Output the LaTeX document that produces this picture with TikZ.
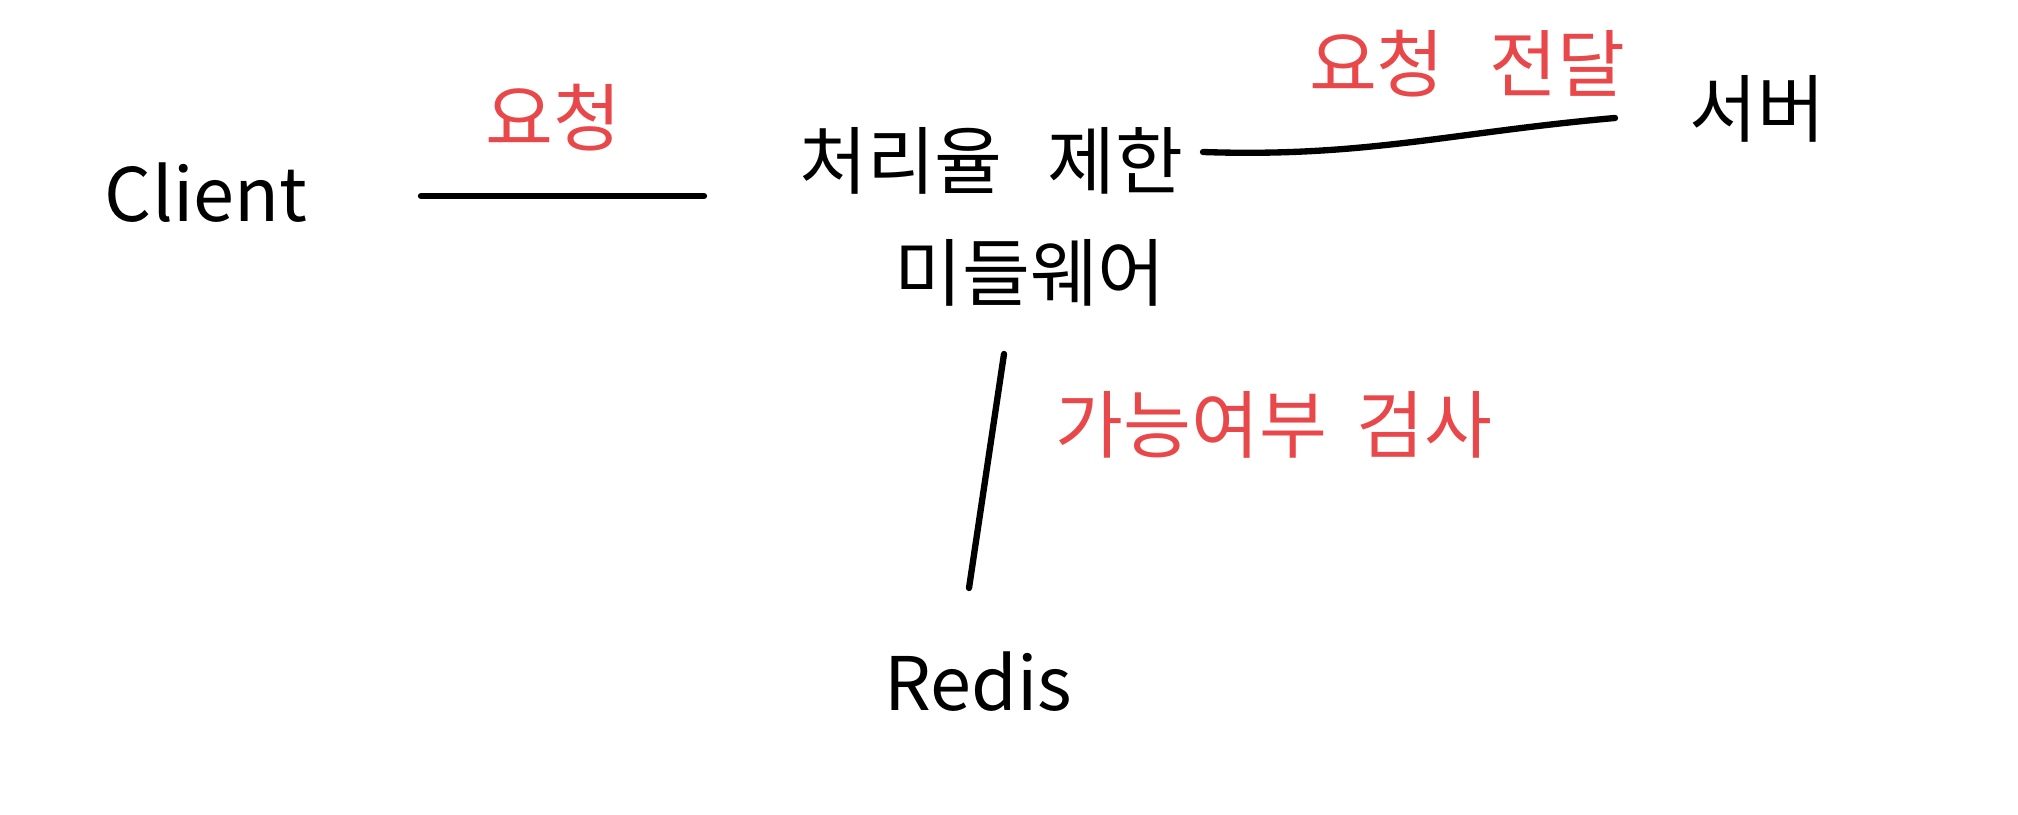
\documentclass[tikz,border=0pt]{standalone}
\usepackage{fontspec}
\setmainfont{Noto Sans CJK KR}
\usepackage{xcolor}
\usepackage{tikz}
\usetikzlibrary{positioning}
\definecolor{penred}{HTML}{E8484A}
\tikzset{ % global config
    every node/.style={font=\fontsize{21}{24}\selectfont}, % handwritten-sized text
    label/.style={text=penred}, % red labels on the links
    link/.style={line width=1.8pt, line cap=round}, % black pen strokes
}
\begin{document}
\begin{tikzpicture}
	\useasboundingbox (0,0) rectangle (20.18,8.14);

		\node (client) at (2.06,6.21) {Client};
		\node (mw1) at (9.91,6.53) {처리율\hspace{0.6em}제한};
		\node (mw2) at (10.30,5.41) {미들웨어};
		\node (server) at (17.57,7.05) {서버};
		\node (redis) at (9.78,1.32) {Redis};
		\node[label] (req) at (5.53,6.96) {요청};
		\node[label] (fwd) at (14.67,7.50) {요청\hspace{0.6em}전달};
		\node[label] (check) at (12.74,3.89) {가능여부\hspace{0.4em}검사};
		\coordinate (a1) at (4.21,6.18);
		\coordinate (a2) at (7.04,6.18);
		\coordinate (b1) at (12.03,6.62);
		\coordinate (b2) at (16.15,6.96);
		\coordinate (c1) at (10.04,4.60);
		\coordinate (c2) at (9.69,2.26);
		\draw[link] (a1) -- (a2);
		\draw[link] (b1) to[out=-2, in=185] (b2);
		\draw[link] (c1) -- (c2);

\end{tikzpicture}
\end{document}
